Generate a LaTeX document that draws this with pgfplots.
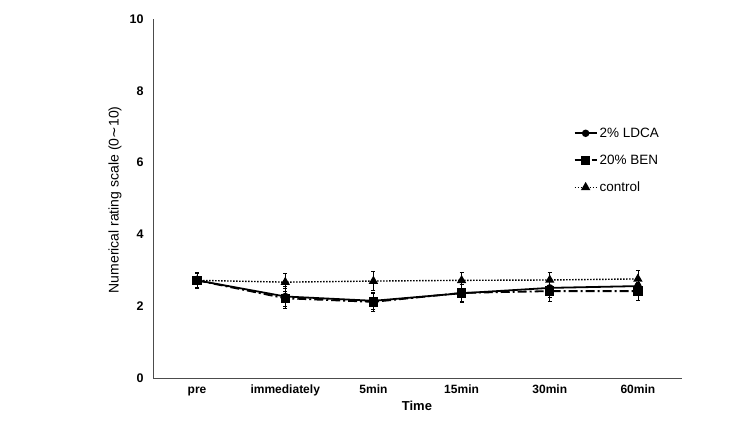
\documentclass[border=0pt]{standalone}
\usepackage{fontspec}
\setmainfont{Liberation Sans}
\newfontfamily\dejavu{DejaVu Sans}
\usepackage{pgfplots}
\pgfplotsset{compat=1.18}
\begin{document}
\begin{tikzpicture}[x=1pt,y=1pt]
\path[use as bounding box] (0,0) rectangle (750,422);
\begin{axis}[
  at={(153pt,44pt)}, anchor=south west,
  scale only axis, width=529pt, height=359pt,
  xmin=-0.5, xmax=5.5, ymin=0, ymax=10,
  axis x line*=bottom, axis y line*=left,
  axis line style={black!70, line width=0.9pt},
  xtick={0,...,5}, xticklabels={pre,immediately,5min,15min,30min,60min},
  ytick={0,2,...,10},
  major tick length=0pt,
  /pgf/number format/assume math mode=true,
  xticklabel style={font=\bfseries\fontsize{12}{14}\selectfont, text height=9pt, text depth=2.5pt, anchor=north, yshift=-3pt},
  yticklabel style={font=\bfseries\fontsize{12.5}{14}\selectfont, xshift=-6pt},
  xlabel={Time}, xlabel style={font=\bfseries\fontsize{13}{15}\selectfont, at={(axis description cs:0.499,-0.078)}, anchor=center},
  ylabel={Numerical rating scale (0{\dejavu\char"223C}10)}, ylabel style={font=\fontsize{14}{16}\selectfont, at={(axis description cs:-0.072,0.496)}, anchor=center},
  legend style={draw=none, fill=none, at={(axis description cs:0.795,0.703)}, anchor=north west, font=\fontsize{13.5}{15}\selectfont, row sep=12pt, inner sep=0pt},
  legend cell align=left,
  legend image code/.code={\draw[mark repeat=2,mark phase=2,#1] plot coordinates {(0pt,0pt) (11pt,0pt) (22pt,0pt)};},
  clip=false,
]
\addplot[black, line width=1.8pt, mark=*, mark size=2.8pt, mark options={solid},
  error bars/.cd, y dir=both, y explicit, error bar style={line width=0.6pt, solid}, error mark options={rotate=90, mark size=2pt, line width=0.6pt}]
  table[x=x, y=y, y error=e] {
x y e
0 2.72 0.22
1 2.27 0.28
2 2.15 0.25
3 2.36 0.24
4 2.51 0.25
5 2.56 0.24
};
\addlegendentry{2\% LDCA}
\addplot[black, line width=1.8pt, dash pattern=on 9pt off 3pt on 2pt off 3pt, mark=square*, mark size=3.8pt, mark options={solid},
  error bars/.cd, y dir=both, y explicit, error bar style={line width=0.6pt, solid}, error mark options={rotate=90, mark size=2pt, line width=0.6pt}]
  table[x=x, y=y, y error=e] {
x y e
0 2.72 0.22
1 2.22 0.28
2 2.12 0.25
3 2.37 0.24
4 2.42 0.28
5 2.42 0.25
};
\addlegendentry{20\% BEN}
\addplot[black, line width=1.4pt, dash pattern=on 1.5pt off 1.5pt, mark=triangle*, mark size=4pt, mark options={solid},
  error bars/.cd, y dir=both, y explicit, error bar style={line width=0.6pt, solid}, error mark options={rotate=90, mark size=2pt, line width=0.6pt}]
  table[x=x, y=y, y error=e] {
x y e
0 2.72 0.2
1 2.67 0.25
2 2.70 0.27
3 2.72 0.23
4 2.73 0.22
5 2.76 0.23
};
\addlegendentry{control}
\end{axis}
\end{tikzpicture}
\end{document}
